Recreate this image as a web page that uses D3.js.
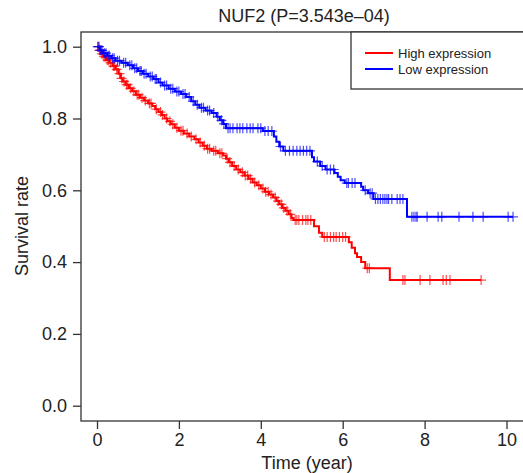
<!DOCTYPE html>
<html>
<head>
<meta charset="utf-8">
<script src="https://cdn.jsdelivr.net/npm/d3@7"></script>
<style>
  body { margin: 0; background: #fff; }
  text { font-family: "Liberation Sans", Arial, sans-serif; fill: #222; }
</style>
</head>
<body>
<div id="chart"></div>
<script>
"use strict";

// == DATA ==
var title = "NUF2 (P=3.543e\u201304)";
var seriesNames = ["High expression", "Low expression"];
var seriesColors = ["#ff0000", "#0000ff"];
var xTicks = [0, 2, 4, 6, 8, 10];
var yTicks = [0, 0.2, 0.4, 0.6, 0.8, 1.0];

// step points [time, survival after step]
var highSteps = [[0,1.0],[0.05,0.99],[0.1,0.98],[0.15,0.972],[0.22,0.963],[0.3,0.955],[0.38,0.946],[0.45,0.937],
  [0.52,0.925],[0.58,0.912],[0.63,0.903],[0.7,0.894],[0.78,0.884],[0.86,0.876],[0.95,0.866],[1.05,0.858],
  [1.15,0.85],[1.25,0.842],[1.35,0.835],[1.42,0.826],[1.5,0.818],[1.58,0.81],[1.65,0.8],[1.72,0.792],
  [1.8,0.784],[1.9,0.774],[2.0,0.766],[2.12,0.758],[2.25,0.75],[2.38,0.742],[2.48,0.733],[2.58,0.724],
  [2.68,0.716],[2.8,0.71],[2.95,0.703],[3.08,0.697],[3.15,0.688],[3.22,0.678],[3.3,0.668],[3.4,0.658],
  [3.5,0.65],[3.6,0.641],[3.7,0.632],[3.8,0.622],[3.9,0.614],[4.0,0.605],[4.1,0.596],[4.2,0.588],
  [4.3,0.58],[4.38,0.57],[4.45,0.561],[4.52,0.551],[4.6,0.543],[4.68,0.533],[4.75,0.523],[4.8,0.517],
  [5.3,0.5],[5.42,0.482],[5.5,0.47],[6.15,0.455],[6.22,0.44],[6.3,0.425],[6.35,0.414],[6.45,0.4],
  [6.55,0.383],[7.15,0.35]];
var highEnd = 9.38;
var highCensor = [0.03,0.06,0.08,0.12,0.17,0.2,0.25,0.28,0.33,0.4,0.43,0.48,0.55,0.6,0.66,0.72,0.75,0.82,0.9,
  0.98,1.02,1.1,1.18,1.28,1.32,1.45,1.55,1.6,1.7,1.78,1.85,1.95,2.05,2.1,2.2,2.3,2.42,2.52,2.62,2.7,2.75,
  2.85,2.9,3.0,3.05,3.18,3.25,3.35,3.45,3.55,3.62,3.68,3.75,3.85,3.95,4.05,4.12,4.18,4.25,4.35,4.42,4.5,
  4.56,4.64,4.72,4.84,4.88,4.93,5.02,5.1,5.15,5.22,5.55,5.62,5.7,5.78,5.84,5.92,6.0,6.07,6.6,6.65,
  7.47,7.52,7.89,8.13,8.45,8.53,8.62,9.38];

var lowSteps = [[0,1.0],[0.08,0.99],[0.15,0.982],[0.25,0.975],[0.35,0.968],[0.45,0.961],[0.6,0.955],
  [0.75,0.948],[0.88,0.94],[1.0,0.932],[1.12,0.925],[1.25,0.917],[1.38,0.91],[1.5,0.9],[1.6,0.892],
  [1.75,0.883],[1.9,0.875],[2.05,0.868],[2.18,0.86],[2.3,0.848],[2.4,0.838],[2.5,0.83],[2.65,0.822],
  [2.8,0.815],[2.92,0.805],[3.0,0.795],[3.08,0.785],[3.15,0.773],[4.05,0.765],[4.32,0.75],[4.38,0.735],
  [4.45,0.722],[4.55,0.71],[5.25,0.692],[5.3,0.68],[5.45,0.668],[5.58,0.658],[5.8,0.648],[5.88,0.638],
  [5.95,0.628],[6.05,0.62],[6.45,0.61],[6.5,0.6],[6.62,0.592],[6.75,0.576],[7.57,0.526]];
var lowEnd = 10.16;
var lowCensor = [0.02,0.05,0.09,0.12,0.18,0.22,0.27,0.3,0.38,0.42,0.5,0.55,0.65,0.7,0.8,0.85,0.92,0.97,1.05,
  1.08,1.15,1.2,1.3,1.35,1.42,1.45,1.55,1.65,1.7,1.8,1.85,1.95,2.0,2.1,2.15,2.25,2.35,2.45,2.55,2.6,2.7,
  2.75,2.85,2.95,3.04,3.1,3.2,3.25,3.32,3.42,3.49,3.56,3.66,3.74,3.81,3.93,4.0,4.1,4.18,4.27,4.48,4.6,
  4.7,4.79,4.88,4.96,5.04,5.12,5.2,5.38,5.5,5.62,5.7,5.78,6.1,6.14,6.23,6.3,6.55,6.67,6.72,6.8,6.86,
  6.92,6.98,7.03,7.08,7.12,7.2,7.33,7.4,7.47,7.69,7.74,7.79,7.82,8.06,8.33,8.42,8.84,9.18,9.43,10.04,10.16];

// == BOILERPLATE ==
var width = 523, height = 473;
var box = { left: 81, top: 32, right: 545, bottom: 421 };

var svg = d3.select("#chart")
            .append("svg")
            .attr("width", width)
            .attr("height", height);

var x = d3.scaleLinear().domain([0, 10]).range([97, 506.5]);
var y = d3.scaleLinear().domain([0, 1]).range([405.7, 46.7]);

// plot frame
svg.append("rect")
   .attr("x", box.left).attr("y", box.top)
   .attr("width", box.right - box.left).attr("height", box.bottom - box.top)
   .style("fill", "none").style("stroke", "#333").style("stroke-width", 1.3);

// x axis
var xAxis = svg.append("g")
   .attr("transform", "translate(0," + box.bottom + ")")
   .call(d3.axisBottom(x).tickValues(xTicks).tickSize(8).tickPadding(4).tickFormat(d3.format("d")));
xAxis.select(".domain").remove();
xAxis.selectAll("line").style("stroke", "#333").style("stroke-width", 1.3);
xAxis.selectAll("text").style("font-size", "18px").style("fill", "#222")
     .style("font-family", "Liberation Sans, Arial, sans-serif");

// y axis
var yAxis = svg.append("g")
   .attr("transform", "translate(" + box.left + ",0)")
   .call(d3.axisLeft(y).tickValues(yTicks).tickSize(8).tickPadding(6).tickFormat(d3.format(".1f")));
yAxis.select(".domain").remove();
yAxis.selectAll("line").style("stroke", "#333").style("stroke-width", 1.3);
yAxis.selectAll("text").style("font-size", "18px").style("fill", "#222")
     .style("font-family", "Liberation Sans, Arial, sans-serif");

// titles
svg.append("text").attr("x", 304).attr("y", 22).attr("text-anchor", "middle")
   .style("font-size", "18px").text(title);
svg.append("text").attr("x", 307).attr("y", 469).attr("text-anchor", "middle")
   .style("font-size", "18px").text("Time (year)");
svg.append("text").attr("transform", "translate(28,226) rotate(-90)").attr("text-anchor", "middle")
   .style("font-size", "18px").text("Survival rate");

// == CURVES ==
var line = d3.line()
  .x(function (d) { return x(d[0]); })
  .y(function (d) { return y(d[1]); })
  .curve(d3.curveStepAfter);

function survivalAt(steps, t) {
  var i = d3.bisector(function (d) { return d[0]; }).right(steps, t) - 1;
  return steps[Math.max(0, i)][1];
}

var curves = [
  { steps: highSteps, end: highEnd, censor: highCensor, color: seriesColors[0] },
  { steps: lowSteps, end: lowEnd, censor: lowCensor, color: seriesColors[1] }
];

curves.forEach(function (c) {
  var pts = c.steps.concat([[c.end, c.steps[c.steps.length - 1][1]]]);
  svg.append("path")
     .datum(pts)
     .attr("d", line)
     .style("fill", "none")
     .style("stroke", c.color)
     .style("stroke-width", 2);

  svg.selectAll(null)
     .data(c.censor)
     .enter()
     .append("path")
     .attr("d", function (t) {
       var cx = x(t), cy = y(survivalAt(c.steps, t)), s = 5;
       return "M" + (cx - s) + "," + cy + "H" + (cx + s) + "M" + cx + "," + (cy - s) + "V" + (cy + s);
     })
     .style("stroke", c.color)
     .style("stroke-width", 1.2)
     .style("stroke-opacity", 0.7)
     .style("fill", "none");
});

// == LEGEND ==
var legend = svg.append("g");
legend.append("rect")
   .attr("x", 351).attr("y", box.top).attr("width", 200).attr("height", 57)
   .style("fill", "#fff").style("stroke", "#333").style("stroke-width", 1.3);
seriesNames.forEach(function (name, i) {
  var ly = 53 + i * 16;
  legend.append("line")
     .attr("x1", 365).attr("x2", 393).attr("y1", ly).attr("y2", ly)
     .style("stroke", seriesColors[i]).style("stroke-width", 2);
  legend.append("text")
     .attr("x", 398).attr("y", ly + 4.5)
     .style("font-size", "13px").text(name);
});
</script>
</body>
</html>
